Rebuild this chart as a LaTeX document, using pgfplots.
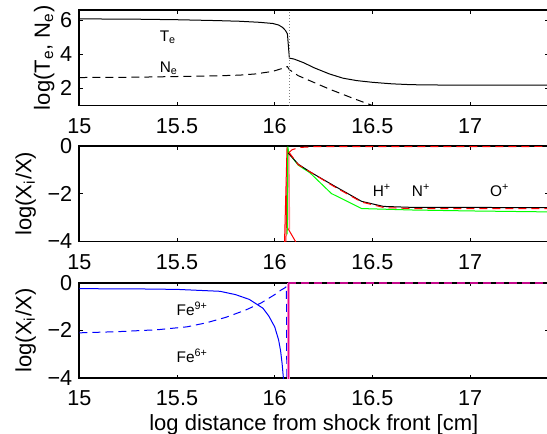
\documentclass[border=0pt]{standalone}
\usepackage{fontspec}
\setmainfont{Liberation Sans}
\usepackage{pgfplots}
\pgfplotsset{compat=1.18}
\pgfplotsset{
  panel/.style={
    scale only axis, width=234.5pt, height=47.75pt,
    xmin=15, xmax=17.4,
    xtick={15,15.5,16,16.5,17},
    xticklabels={15,15.5,16,16.5,17},
    tick align=inside, major tick length=1.8pt,
    axis line style={line width=0.9pt},
    every tick/.style={black, line width=0.5pt},
    tick label style={font=\fontsize{10.8}{12}\selectfont},
    xticklabel style={yshift=-2.8pt},
    label style={font=\fontsize{11}{13}\selectfont},
    /pgf/number format/assume math mode=true,
  },
}
\tikzset{
  thin line/.style={line width=0.5pt},
  dsh/.style={line width=0.5pt, dash pattern=on 4pt off 2.5pt},
  lab/.style={anchor=base west, inner sep=0pt, font=\fontsize{7.7}{9}\selectfont},
}
\begin{document}
\begin{tikzpicture}
% ---------- panel 1 ----------
\begin{axis}[panel, at={(0pt,0pt)}, anchor=north west,
  ymin=1, ymax=6.6, ytick={2,4,6}, yticklabels={2,4,6},
  ylabel={log(T\textsubscript{e}, N\textsubscript{e})},
  ylabel style={yshift=-4pt}]
\addplot[black, thin line] coordinates {
 (15,6.08) (15.3,6.06) (15.5,6.03) (15.7,5.98) (15.82,5.94) (15.92,5.88)
 (15.99,5.81) (16.02,5.72) (16.04,5.58) (16.055,5.4) (16.065,5.2) (16.07,4.5)
 (16.075,3.78) (16.1,3.72) (16.15,3.5) (16.2,3.22) (16.28,2.85) (16.35,2.6)
 (16.42,2.46) (16.5,2.36) (16.6,2.27) (16.7,2.22) (16.85,2.2) (17.0,2.19) (17.4,2.19)};
\addplot[black, dsh] coordinates {
 (15,2.64) (15.3,2.66) (15.5,2.7) (15.7,2.74) (15.82,2.78) (15.9,2.85)
 (15.99,3.0) (16.04,3.18) (16.065,3.28) (16.075,3.1) (16.12,2.75) (16.28,1.96)
 (16.41,1.38) (16.5,1.0) (16.55,0.8)};
\addplot[gray, line width=0.5pt, dash pattern=on 0.5pt off 1pt] coordinates {(16.078,1) (16.078,6.6)};
\node[lab] at (axis cs:15.41,4.78) {T\textsubscript{e}};
\node[lab] at (axis cs:15.41,2.93) {N\textsubscript{e}};
\end{axis}
% ---------- panel 2 ----------
\begin{axis}[panel, at={(0pt,-68pt)}, anchor=north west,
  ymin=-4, ymax=0, ytick={-4,-2,0}, yticklabels={−4,−2,0},
  ylabel={log(X\textsubscript{i}/X)},
  ylabel style={yshift=-1pt}]
\addplot[red, thin line] coordinates {(16.05,-4.1) (16.063,-0.05)};
\addplot[red, thin line] coordinates {(16.057,-4.1) (16.066,-0.1) (16.064,-3.4) (16.11,-4.05)};
\addplot[red!45, line width=0.8pt] coordinates {(16.072,-0.3) (16.075,-3.5)};
\addplot[green, thin line] coordinates {
 (16.064,-3.7) (16.067,-0.02) (16.072,-0.3) (16.12,-0.8) (16.18,-1.12) (16.29,-1.99)
 (16.445,-2.62) (16.7,-2.68) (17.0,-2.72) (17.4,-2.76)};
\addplot[black, thin line] coordinates {
 (16.07,-0.3) (16.12,-0.76) (16.18,-1.08) (16.3,-1.65) (16.445,-2.32) (16.556,-2.53)
 (16.7,-2.57) (17.4,-2.58)};
\addplot[red, dsh] coordinates {
 (16.072,-0.25) (16.12,-0.78) (16.3,-1.68) (16.445,-2.35) (16.56,-2.58) (16.7,-2.62) (17.4,-2.62)};
\addplot[red, dsh] coordinates {
 (16.072,-0.28) (16.09,-0.15) (16.13,-0.06) (16.2,-0.03) (17.4,-0.02)};
\node[lab] at (axis cs:16.50,-2.1) {H\textsuperscript{+}};
\node[lab] at (axis cs:16.70,-2.1) {N\textsuperscript{+}};
\node[lab] at (axis cs:17.10,-2.1) {O\textsuperscript{+}};
\end{axis}
% ---------- panel 3 ----------
\begin{axis}[panel, at={(0pt,-136.35pt)}, anchor=north west,
  ymin=-4, ymax=0, ytick={-4,-2,0}, yticklabels={−4,−2,0},
  ylabel={log(X\textsubscript{i}/X)},
  ylabel style={yshift=-1pt},
  xlabel={log distance from shock front [cm]},
  xlabel style={yshift=2.5pt}]
\addplot[blue, thin line] coordinates {
 (15,-0.25) (15.3,-0.26) (15.5,-0.28) (15.72,-0.36) (15.8,-0.5) (15.87,-0.7)
 (15.94,-1.07) (15.97,-1.4) (16.0,-1.85) (16.02,-2.4) (16.03,-2.85) (16.038,-3.4) (16.045,-4.05)};
\addplot[blue, dsh] coordinates {
 (15,-2.1) (15.2,-2.05) (15.4,-1.97) (15.55,-1.85) (15.65,-1.68) (15.75,-1.45)
 (15.85,-1.15) (15.93,-0.85) (16.0,-0.5) (16.03,-0.32) (16.055,-0.2) (16.06,-0.15) (16.062,-4.05)};
\addplot[magenta!45, line width=1.4pt] coordinates {(16.069,-4.1) (16.069,0)};
\addplot[magenta, line width=0.6pt] coordinates {(16.069,-4.1) (16.069,0)};
\addplot[magenta!80!blue, line width=0.8pt, dash pattern=on 4pt off 2.5pt] coordinates {(16.069,-0.02) (17.4,-0.02)};
\node[lab] at (axis cs:15.496,-1.36) {Fe\textsuperscript{9+}};
\node[lab] at (axis cs:15.496,-3.34) {Fe\textsuperscript{6+}};
\end{axis}
\pgfresetboundingbox
\useasboundingbox (-39.65pt,5pt) rectangle (233.85pt,-212pt);
\end{tikzpicture}
\end{document}
